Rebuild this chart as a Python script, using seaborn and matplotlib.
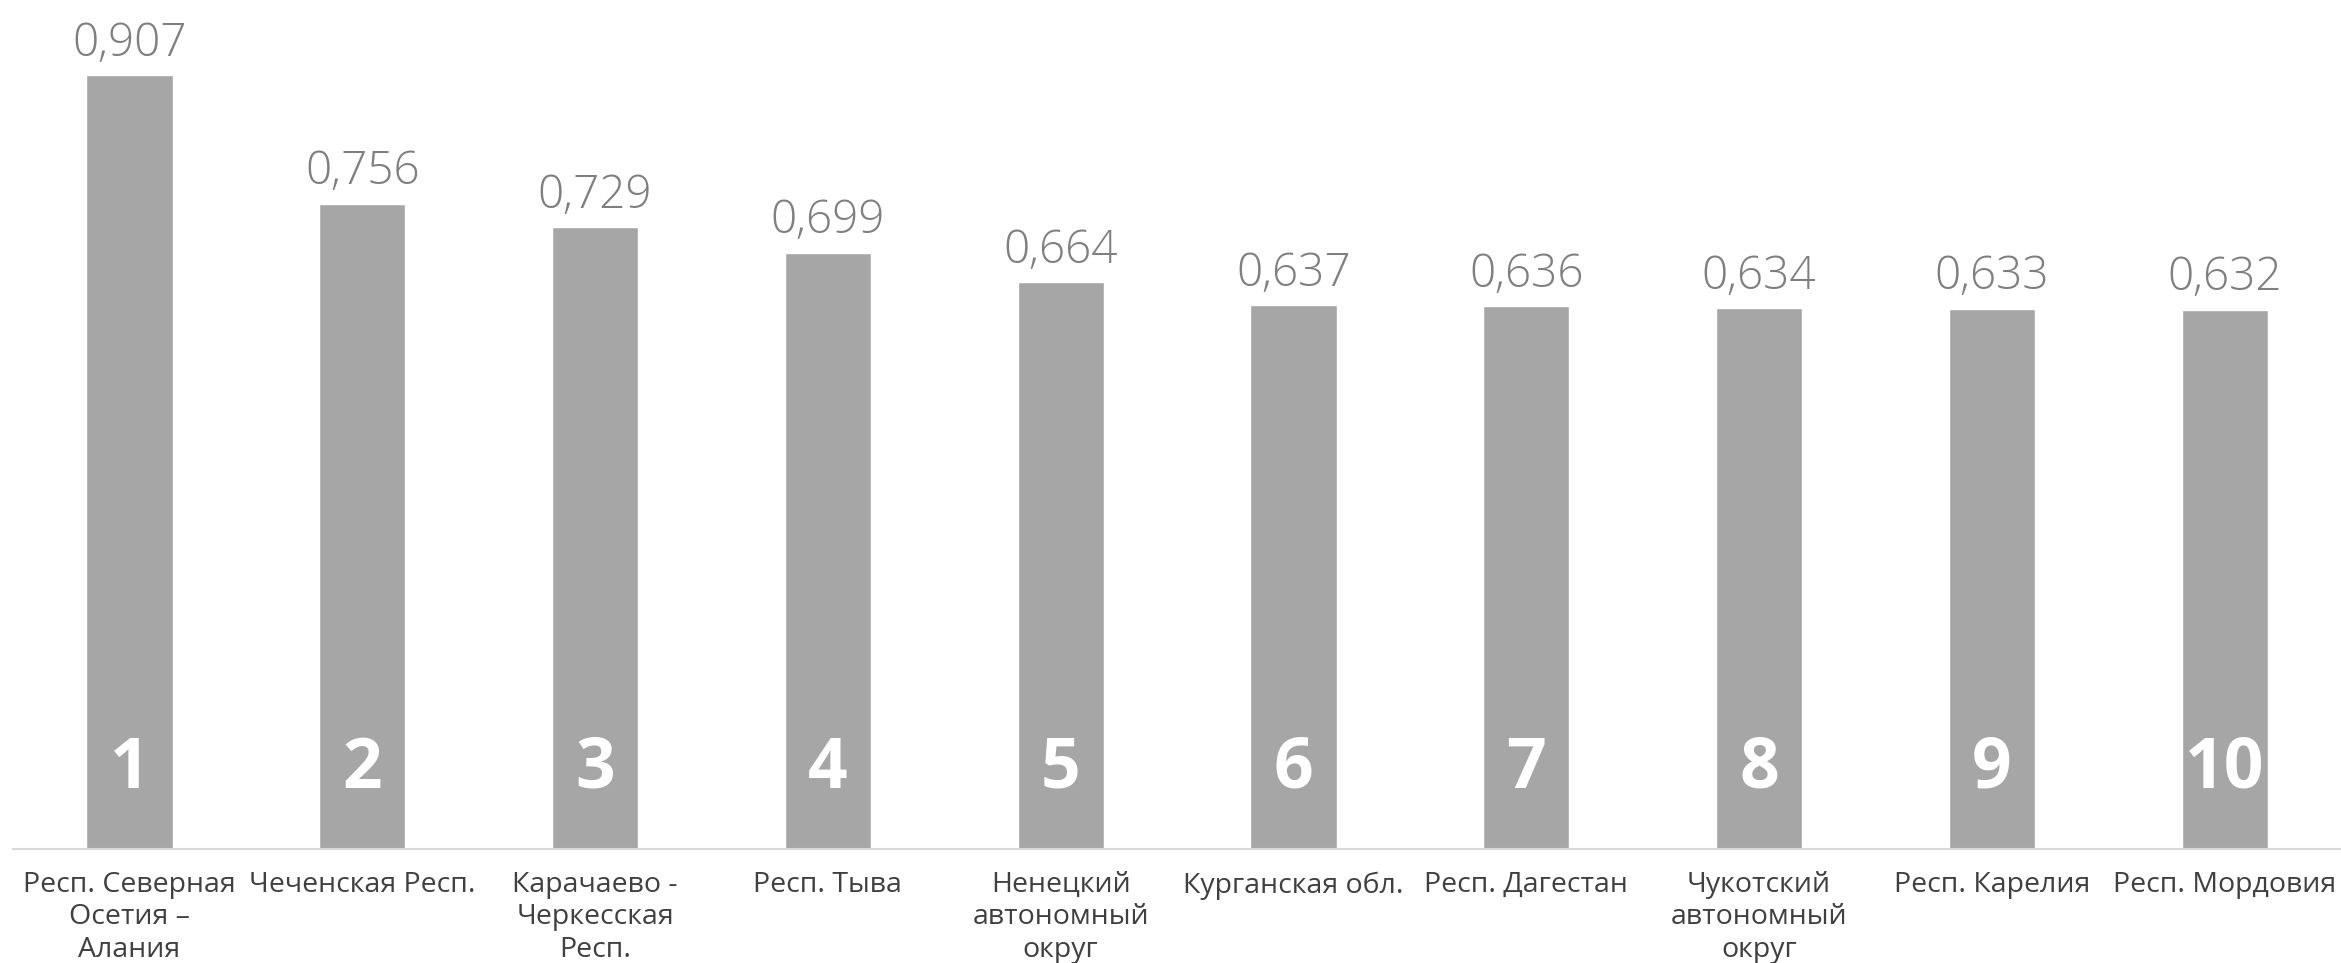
import pandas as pd
import matplotlib
matplotlib.use('Agg')
import matplotlib.pyplot as plt
import seaborn as sns

# Data
regions = ['Респ. Северная\nОсетия –\nАлания', 'Чеченская Респ.', 'Карачаево -\nЧеркесская\nРесп.',
           'Респ. Тыва', 'Ненецкий\nавтономный\nокруг', 'Курганская обл.', 'Респ. Дагестан',
           'Чукотский\nавтономный\nокруг', 'Респ. Карелия', 'Респ. Мордовия']
values = [0.907, 0.756, 0.729, 0.699, 0.664, 0.637, 0.636, 0.634, 0.633, 0.632]
ranks = [1, 2, 3, 4, 5, 6, 7, 8, 9, 10]

df = pd.DataFrame({'region': regions, 'value': values, 'rank': ranks})

sns.set_theme(style="white")
plt.rcParams['font.family'] = ['Open Sans', 'DejaVu Sans']

fig = plt.figure(figsize=(23.41, 9.63), dpi=100)
ax = fig.add_axes([0.0056, 0.1184, 0.9944, 0.8816])
sns.barplot(x='region', y='value', data=df, color='#a6a6a6', width=0.37,
            saturation=1, ax=ax)

ax.set_ylim(0, 0.995)
ax.set_xlim(-0.5, 9.5)
for s in ['top', 'right', 'left']:
    ax.spines[s].set_visible(False)
ax.spines['bottom'].set_color('#d9d9d9')
ax.spines['bottom'].set_linewidth(1.5)
ax.set_yticks([])
ax.set_xlabel('')
ax.set_ylabel('')
ax.tick_params(axis='x', length=0, pad=16, labelsize=20.5, labelcolor='#404040')
for lbl in ax.get_xticklabels():
    lbl.set_linespacing(1.2)

# value labels above bars and rank numbers inside
for i, (v, r) in enumerate(zip(values, ranks)):
    ax.annotate(f'{v:.3f}'.replace('.', ','), (i, v), xytext=(0, 14),
                textcoords='offset points', ha='center', va='baseline',
                fontsize=33, color='#7f7f7f', fontweight='light')
    ax.text(i, 0.093, str(r), ha='center', va='center', fontsize=50,
            color='white', fontweight='bold')

plt.savefig('out.png', dpi=100)
plt.close()
